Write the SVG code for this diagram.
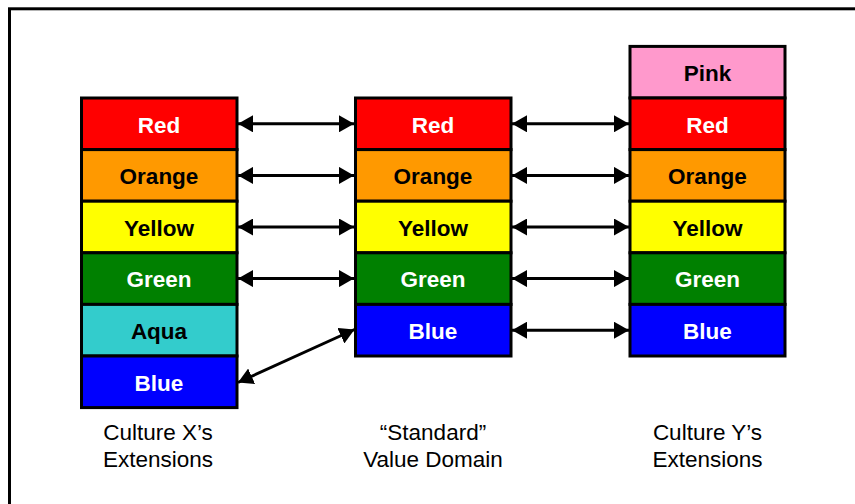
<svg xmlns="http://www.w3.org/2000/svg" width="855" height="504" viewBox="0 0 855 504">
  <style>
    .cell { stroke: #000; stroke-width: 3; }
    .lbl { font-family: "Liberation Sans", Arial, sans-serif; font-weight: bold; font-size: 22.5px; text-anchor: middle; }
    .dark { fill: #000; }
    .light { fill: #fff; }
    .cap { font-family: "Liberation Sans", Arial, sans-serif; font-size: 22.5px; text-anchor: middle; fill: #000; }
    .conn { stroke: #000; stroke-width: 3; fill: none; marker-start: url(#head); marker-end: url(#head); }
  </style>
  <defs>
    <marker id="head" markerUnits="userSpaceOnUse" markerWidth="16" markerHeight="17" refX="15" refY="8.5" orient="auto-start-reverse" viewBox="0 0 16 17">
      <path d="M0,0 L15,8.5 L0,17 z" fill="#000"/>
    </marker>
  </defs>

  <rect x="0" y="0" width="855" height="504" fill="#fff"/>
  <!-- frame -->
  <rect x="9.5" y="8.8" width="900" height="600" fill="none" stroke="#000" stroke-width="3"/>

  <!-- Culture X column -->
  <g id="colX">
    <g id="x-red"><rect class="cell" x="81.5" y="98" width="155.5" height="51.6" fill="#FF0000"/><text class="lbl light" x="159" y="132.5">Red</text></g>
    <g id="x-orange"><rect class="cell" x="81.5" y="149.6" width="155.5" height="51.6" fill="#FF9900"/><text class="lbl dark" x="159" y="184">Orange</text></g>
    <g id="x-yellow"><rect class="cell" x="81.5" y="201.2" width="155.5" height="51.6" fill="#FFFF00"/><text class="lbl dark" x="159" y="235.5">Yellow</text></g>
    <g id="x-green"><rect class="cell" x="81.5" y="252.8" width="155.5" height="51.6" fill="#008000"/><text class="lbl light" x="159" y="287">Green</text></g>
    <g id="x-aqua"><rect class="cell" x="81.5" y="304.4" width="155.5" height="51.6" fill="#33CCCC"/><text class="lbl dark" x="159" y="338.5">Aqua</text></g>
    <g id="x-blue"><rect class="cell" x="81.5" y="356" width="155.5" height="51.6" fill="#0000FF"/><text class="lbl light" x="159" y="390.5">Blue</text></g>
  </g>

  <!-- Standard value domain column -->
  <g id="colS">
    <g id="s-red"><rect class="cell" x="355.5" y="98" width="155.5" height="51.6" fill="#FF0000"/><text class="lbl light" x="433" y="132.5">Red</text></g>
    <g id="s-orange"><rect class="cell" x="355.5" y="149.6" width="155.5" height="51.6" fill="#FF9900"/><text class="lbl dark" x="433" y="184">Orange</text></g>
    <g id="s-yellow"><rect class="cell" x="355.5" y="201.2" width="155.5" height="51.6" fill="#FFFF00"/><text class="lbl dark" x="433" y="235.5">Yellow</text></g>
    <g id="s-green"><rect class="cell" x="355.5" y="252.8" width="155.5" height="51.6" fill="#008000"/><text class="lbl light" x="433" y="287">Green</text></g>
    <g id="s-blue"><rect class="cell" x="355.5" y="304.4" width="155.5" height="51.6" fill="#0000FF"/><text class="lbl light" x="433" y="338.5">Blue</text></g>
  </g>

  <!-- Culture Y column -->
  <g id="colY">
    <g id="y-pink"><rect class="cell" x="630" y="46.4" width="155" height="51.6" fill="#FF99CC"/><text class="lbl dark" x="707.5" y="80.5">Pink</text></g>
    <g id="y-red"><rect class="cell" x="630" y="98" width="155" height="51.6" fill="#FF0000"/><text class="lbl light" x="707.5" y="132.5">Red</text></g>
    <g id="y-orange"><rect class="cell" x="630" y="149.6" width="155" height="51.6" fill="#FF9900"/><text class="lbl dark" x="707.5" y="184">Orange</text></g>
    <g id="y-yellow"><rect class="cell" x="630" y="201.2" width="155" height="51.6" fill="#FFFF00"/><text class="lbl dark" x="707.5" y="235.5">Yellow</text></g>
    <g id="y-green"><rect class="cell" x="630" y="252.8" width="155" height="51.6" fill="#008000"/><text class="lbl light" x="707.5" y="287">Green</text></g>
    <g id="y-blue"><rect class="cell" x="630" y="304.4" width="155" height="51.6" fill="#0000FF"/><text class="lbl light" x="707.5" y="338.5">Blue</text></g>
  </g>

  <!-- mappings -->
  <g id="connectors">
    <line class="conn" x1="238" y1="123.8" x2="354" y2="123.8"/>
    <line class="conn" x1="238" y1="175.4" x2="354" y2="175.4"/>
    <line class="conn" x1="238" y1="227" x2="354" y2="227"/>
    <line class="conn" x1="238" y1="278.6" x2="354" y2="278.6"/>
    <line class="conn" x1="238" y1="382.5" x2="354.5" y2="329.5"/>
    <line class="conn" x1="512" y1="123.8" x2="629" y2="123.8"/>
    <line class="conn" x1="512" y1="175.4" x2="629" y2="175.4"/>
    <line class="conn" x1="512" y1="227" x2="629" y2="227"/>
    <line class="conn" x1="512" y1="278.6" x2="629" y2="278.6"/>
    <line class="conn" x1="512" y1="330.2" x2="629" y2="330.2"/>
  </g>

  <!-- captions -->
  <g id="captions">
    <text class="cap" x="158" y="440">Culture X’s</text>
    <text class="cap" x="158" y="467">Extensions</text>
    <text class="cap" x="433" y="440">“Standard”</text>
    <text class="cap" x="433" y="467">Value Domain</text>
    <text class="cap" x="707.5" y="440">Culture Y’s</text>
    <text class="cap" x="707.5" y="467">Extensions</text>
  </g>
</svg>
